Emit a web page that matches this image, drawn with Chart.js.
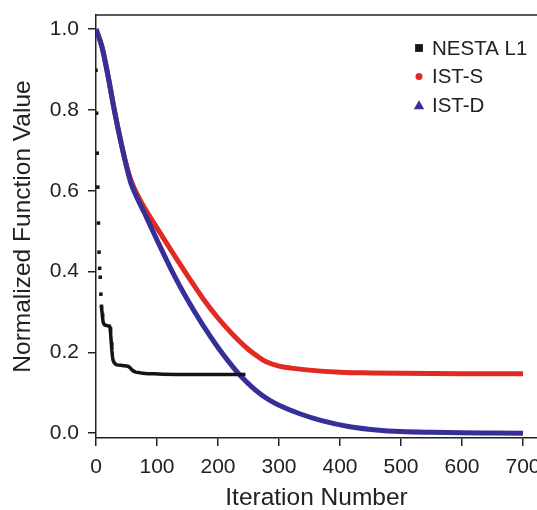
<!DOCTYPE html>
<html>
<head>
<meta charset="utf-8">
<script src="https://cdn.jsdelivr.net/npm/chart.js@4"></script>
<style>
  html, body { margin: 0; padding: 0; background: #fff; }
  #wrap { width: 537px; height: 510px; }
</style>
</head>
<body>
<div id="wrap"><canvas id="fnChart" width="537" height="510"></canvas></div>
<script>
// values
const nestaIter = [0, 1, 2, 3, 4, 5, 6, 7, 8, 9, 10, 11, 12, 14, 16, 18, 20, 22, 23, 24, 25, 26, 27, 28, 30, 32, 34, 40, 46, 50, 53, 56, 58, 61, 65, 70, 77, 85, 95, 110, 132, 160, 200, 245];
const nestaValue = [0.898, 0.792, 0.693, 0.609, 0.520, 0.448, 0.408, 0.386, 0.344, 0.314, 0.297, 0.282, 0.273, 0.268, 0.267, 0.266, 0.265, 0.265, 0.262, 0.245, 0.225, 0.205, 0.19, 0.18, 0.174, 0.171, 0.169, 0.168, 0.167, 0.166, 0.165, 0.162, 0.158, 0.154, 0.151, 0.150, 0.148, 0.147, 0.147, 0.146, 0.145, 0.145, 0.145, 0.145];

const istSIter = [0, 10, 20, 30, 40, 50, 57, 72, 100, 125, 150, 175, 200, 225, 250, 265, 280, 300, 320, 350, 400, 450, 500, 600, 700];
const istSValue = [1.0, 0.955, 0.882, 0.80, 0.727, 0.662, 0.627, 0.578, 0.508, 0.448, 0.39, 0.334, 0.285, 0.243, 0.207, 0.19, 0.176, 0.166, 0.161, 0.156, 0.151, 0.149, 0.148, 0.147, 0.147];

const istDIter = [0, 10, 20, 30, 40, 50, 57, 65, 80, 100, 125, 150, 175, 200, 225, 240, 255, 270, 285, 300, 334, 370, 416, 460, 500, 550, 600, 650, 700];
const istDValue = [1.0, 0.955, 0.882, 0.80, 0.726, 0.66, 0.62, 0.59, 0.543, 0.478, 0.40, 0.33, 0.268, 0.212, 0.163, 0.137, 0.115, 0.096, 0.081, 0.069, 0.048, 0.031, 0.016, 0.008, 0.004, 0.002, 0.001, 0.0005, 0.0];

const xTicks = [0, 100, 200, 300, 400, 500, 600, 700];
const yTicks = [0.0, 0.2, 0.4, 0.6, 0.8, 1.0];

const toPoints = (xs, ys) => xs.map((x, i) => ({ x: x, y: ys[i] }));

const FONT = '"Liberation Sans", Arial, Helvetica, sans-serif';
const INK = '#222';

// top frame line, runs off the right edge like the original
const topLinePlugin = {
    id: 'topLine',
    afterDraw(chart) {
        const { ctx, chartArea } = chart;
        ctx.save();
        ctx.strokeStyle = INK;
        ctx.lineWidth = 1.5;
        ctx.beginPath();
        ctx.moveTo(chartArea.left - 0.75, chartArea.top);
        ctx.lineTo(chart.width, chartArea.top);
        ctx.stroke();
        ctx.restore();
    }
};

// legend sits inside the plot at the top right
const insetLegend = {
    id: 'insetLegend',
    afterDraw(chart) {
        const { ctx, chartArea } = chart;
        const mx = chartArea.right - 118;
        ctx.save();
        ctx.font = '20.5px ' + FONT;
        ctx.textBaseline = 'middle';
        chart.data.datasets.forEach((ds, i) => {
            const y = chartArea.top + 33 + i * 28.5;
            ctx.fillStyle = ds.legendColor;
            ctx.beginPath();
            if (ds.legendShape === 'rect') {
                ctx.rect(mx - 3.9, y - 3.9, 7.8, 7.8);
            } else if (ds.legendShape === 'circle') {
                ctx.arc(mx, y, 3.5, 0, Math.PI * 2);
            } else {
                ctx.moveTo(mx, y - 4.8);
                ctx.lineTo(mx + 5.2, y + 4.3);
                ctx.lineTo(mx - 5.2, y + 4.3);
                ctx.closePath();
            }
            ctx.fill();
            ctx.fillStyle = INK;
            ctx.fillText(ds.label, mx + 13, y + 1);
        });
        ctx.restore();
    }
};

const noPad = (scale) => {
    scale.paddingLeft = 0;
    scale.paddingRight = 0;
    scale.paddingTop = 0;
    scale.paddingBottom = 0;
};

new Chart(document.getElementById('fnChart'), {
    type: 'line',
    data: {
        datasets: [
            {
                label: 'NESTA L1',
                data: toPoints(nestaIter, nestaValue),
                borderColor: '#141414',
                borderWidth: 3.5,
                pointStyle: 'rect',
                pointRadius: (c) => c.dataIndex < 10 ? 2.5 : 0,
                pointBackgroundColor: '#141414',
                pointBorderWidth: 0,
                segment: {
                    borderColor: (c) => c.p0DataIndex < 9 ? 'rgba(0,0,0,0)' : undefined
                },
                order: 0,
                legendColor: '#141414',
                legendShape: 'rect'
            },
            {
                label: 'IST-S',
                data: toPoints(istSIter, istSValue),
                borderColor: '#e12a22',
                borderWidth: 5,
                pointRadius: 0,
                cubicInterpolationMode: 'monotone',
                order: 2,
                legendColor: '#e12a22',
                legendShape: 'circle'
            },
            {
                label: 'IST-D',
                data: toPoints(istDIter, istDValue),
                borderColor: '#352f97',
                borderWidth: 5,
                pointRadius: 0,
                cubicInterpolationMode: 'monotone',
                order: 1,
                legendColor: '#352f97',
                legendShape: 'triangle'
            }
        ]
    },
    options: {
        responsive: false,
        animation: false,
        events: [],
        layout: { autoPadding: false, padding: { top: 15, right: 0, left: 0, bottom: 0 } },
        plugins: {
            legend: { display: false },
            tooltip: { enabled: false }
        },
        scales: {
            x: {
                type: 'linear',
                min: 0,
                max: 723,
                afterBuildTicks: (scale) => { scale.ticks = xTicks.map(v => ({ value: v })); },
                afterFit: (scale) => { scale.height = 72; noPad(scale); },
                ticks: {
                    color: INK,
                    font: { family: FONT, size: 21 },
                    padding: 9,
                    maxRotation: 0
                },
                grid: {
                    drawOnChartArea: false,
                    drawTicks: true,
                    tickLength: 8,
                    color: INK,
                    lineWidth: 1.5
                },
                border: { color: INK, width: 1.5 },
                title: {
                    display: true,
                    text: 'Iteration Number',
                    color: INK,
                    font: { family: FONT, size: 24.5, lineHeight: 1 },
                    padding: { top: 0, bottom: 0 }
                }
            },
            y: {
                min: -0.012,
                max: 1.035,
                afterBuildTicks: (scale) => { scale.ticks = yTicks.map(v => ({ value: v })); },
                afterFit: (scale) => { scale.width = 96; noPad(scale); },
                ticks: {
                    color: INK,
                    font: { family: FONT, size: 21 },
                    padding: 9,
                    callback: (v) => Number(v).toFixed(1)
                },
                grid: {
                    drawOnChartArea: false,
                    drawTicks: true,
                    tickLength: 8,
                    color: INK,
                    lineWidth: 1.5
                },
                border: { color: INK, width: 1.5 },
                title: {
                    display: true,
                    text: 'Normalized Function Value',
                    color: INK,
                    font: { family: FONT, size: 24.5, lineHeight: 1 },
                    padding: { top: 10.5, bottom: 0 }
                }
            }
        }
    },
    plugins: [topLinePlugin, insetLegend]
});
</script>
</body>
</html>
